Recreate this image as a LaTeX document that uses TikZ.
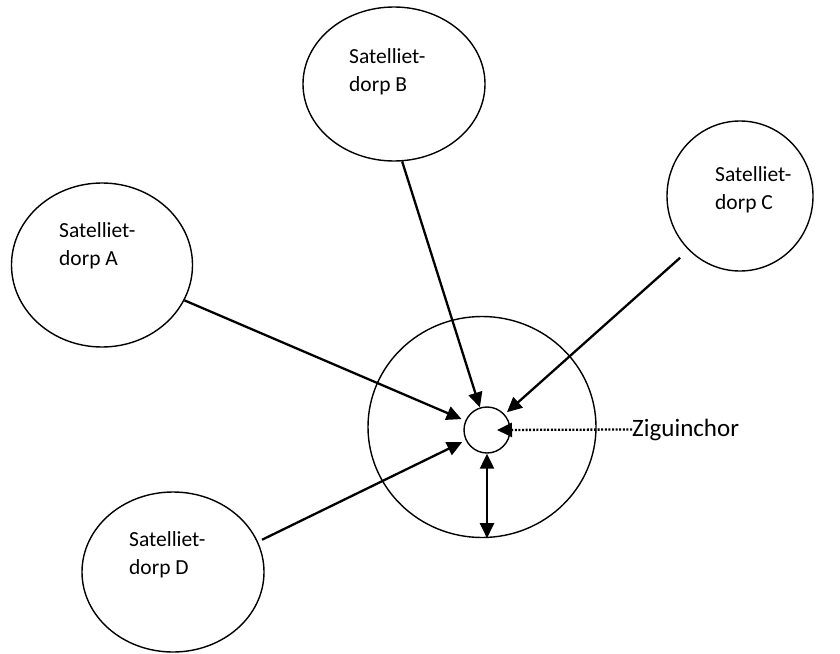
\documentclass[tikz,border=0pt]{standalone}
\usepackage{fontspec}
\setmainfont{Carlito}
\usetikzlibrary{shapes.geometric,arrows.meta}
\begin{document}
\begin{tikzpicture}[x=1pt,y=-1pt,
  village/.style={draw, ellipse, line width=1.4pt, inner sep=0pt},
  vtext/.style={anchor=west, align=left, inner sep=0pt, font=\fontsize{21.5}{27.5}\selectfont},
  conn/.style={line width=2.3pt, -{Triangle[length=15pt,width=14pt]}},
]
\useasboundingbox (0,0) rectangle (840,653);
% satellite villages
\node[village, minimum width=182pt, minimum height=154pt] (B) at (394,84) {};
\node[village, minimum width=181pt, minimum height=164pt] (A) at (102,265) {};
\node[village, minimum width=146pt, minimum height=150pt] (C) at (740,196) {};
\node[village, minimum width=182pt, minimum height=160pt] (D) at (173,572) {};
% city
\node[village, minimum width=228pt, minimum height=221pt] (Z) at (482,427) {};
\node[village, circle, minimum size=46pt] (z) at (487,430) {};
% labels
\node[vtext] (tB) at (349,72) {Satelliet-\\dorp B};
\node[vtext] (tA) at (59,246) {Satelliet-\\dorp A};
\node[vtext] (tC) at (715,190) {Satelliet-\\dorp C};
\node[vtext] (tD) at (129,555) {Satelliet-\\dorp D};
\node[anchor=base west, inner sep=0pt, font=\fontsize{25}{30}\selectfont] (lbl) at (632,436) {Ziguinchor};
% connectors
\draw[conn, shorten >=4pt] (A) -- (z);
\draw[conn] (B.-84) -- (z);
\draw[conn, shorten >=3pt] ([shift={(-8pt,-8pt)}]C.226) -- (z);
\draw[conn, shorten >=4pt] ([shift={(5pt,0pt)}]D.21) -- (z);
\draw[line width=2.3pt, {Triangle[length=15pt,width=14pt]}-{Triangle[length=15pt,width=14pt]}] (z.south) -- (z.south |- Z.south);
\draw[line width=2.3pt, dash pattern=on 2pt off 1.6pt, -{Triangle[length=15pt,width=14pt]}] (lbl.west) -- ([xshift=10pt]z.center);
\end{tikzpicture}
\end{document}
